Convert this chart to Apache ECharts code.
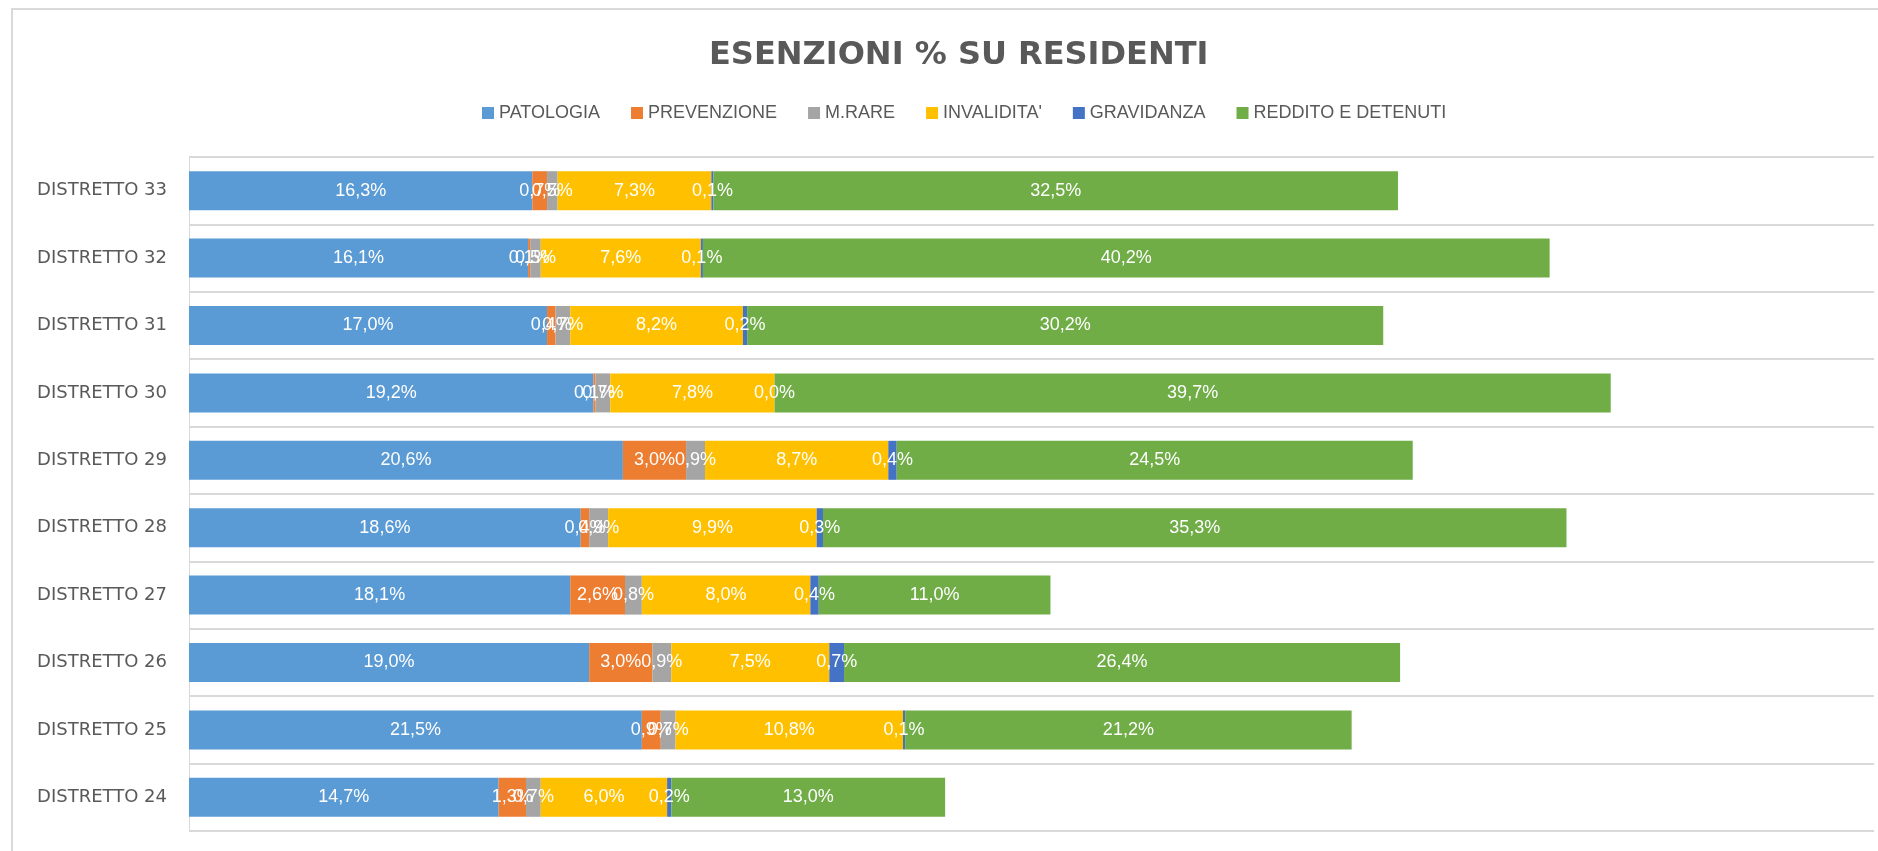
<!DOCTYPE html>
<html>
<head>
<meta charset="utf-8">
<script src="https://cdn.jsdelivr.net/npm/echarts@6/dist/echarts.min.js"></script>
<style>
  html, body { margin: 0; padding: 0; background: #fff; }
  #chart { width: 1878px; height: 851px; }
</style>
</head>
<body>
<div id="chart"></div>
<script>
// categories, bottom to top as drawn by the category axis
const categories = ['DISTRETTO 24', 'DISTRETTO 25', 'DISTRETTO 26', 'DISTRETTO 27', 'DISTRETTO 28',
    'DISTRETTO 29', 'DISTRETTO 30', 'DISTRETTO 31', 'DISTRETTO 32', 'DISTRETTO 33'];

const patologia   = [14.7, 21.5, 19.0, 18.1, 18.6, 20.6, 19.2, 17.0, 16.1, 16.3];
const prevenzione = [1.3, 0.9, 3.0, 2.6, 0.4, 3.0, 0.1, 0.4, 0.1, 0.7];
const mRare       = [0.7, 0.7, 0.9, 0.8, 0.9, 0.9, 0.7, 0.7, 0.5, 0.5];
const invalidita  = [6.0, 10.8, 7.5, 8.0, 9.9, 8.7, 7.8, 8.2, 7.6, 7.3];
const gravidanza  = [0.2, 0.1, 0.7, 0.4, 0.3, 0.4, 0.0, 0.2, 0.1, 0.1];
const reddito     = [13.0, 21.2, 26.4, 11.0, 35.3, 24.5, 39.7, 30.2, 40.2, 32.5];

const seriesNames = ['PATOLOGIA', 'PREVENZIONE', 'M.RARE', "INVALIDITA'", 'GRAVIDANZA', 'REDDITO E DETENUTI'];
const seriesData = [patologia, prevenzione, mRare, invalidita, gravidanza, reddito];
const colors = ['#5B9BD5', '#ED7D31', '#A5A5A5', '#FFC000', '#4472C4', '#70AD47'];

const chart = echarts.init(document.getElementById('chart'));

const fontFamily = '"Liberation Sans", Arial, sans-serif';

const option = {
    animation: false,
    color: colors,
    title: {
        text: 'ESENZIONI % SU RESIDENTI',
        left: 704,
        top: 35,
        textStyle: {
            fontFamily: '"DejaVu Sans", sans-serif',
            fontSize: 32,
            fontWeight: 'bold',
            color: '#595959',
        },
    },
    legend: {
        top: 99,
        left: 477,
        itemWidth: 12,
        itemHeight: 12,
        itemGap: 31,
        icon: 'rect',
        textStyle: {
            fontFamily: fontFamily,
            fontSize: 18,
            color: '#595959',
        },
        data: seriesNames,
    },
    grid: {
        left: 189,
        right: 4,
        top: 157,
        bottom: 20,
    },
    xAxis: {
        type: 'value',
        min: 0,
        max: 80,
        show: false,
    },
    yAxis: {
        type: 'category',
        data: categories,
        axisLine: { show: true, lineStyle: { color: '#D9D9D9' } },
        axisTick: { show: false },
        splitLine: { show: true, lineStyle: { color: '#D9D9D9', width: 2 } },
        axisLabel: {
            fontFamily: '"DejaVu Sans", sans-serif',
            fontSize: 18,
            color: '#595959',
            margin: 22,
        },
    },
    graphic: [{
        type: 'rect',
        shape: { x: 12, y: 9, width: 1880, height: 860 },
        style: { fill: 'none', stroke: '#D9D9D9', lineWidth: 2 },
        silent: true,
    }],
    series: seriesNames.map((name, i) => ({
        name: name,
        type: 'bar',
        stack: 'total',
        barWidth: 39,
        data: seriesData[i],
        label: {
            show: true,
            position: 'inside',
            color: '#fff',
            fontFamily: fontFamily,
            fontSize: 18,
            formatter: p => p.value.toFixed(1).replace('.', ',') + '%',
        },
    })),
};

chart.setOption(option);
</script>
</body>
</html>
